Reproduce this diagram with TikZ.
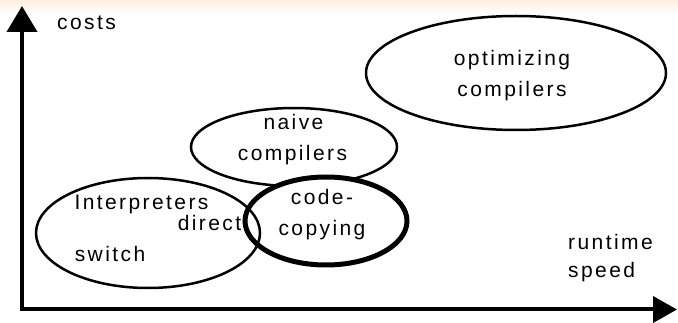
\documentclass[tikz,border=0pt]{standalone}
\usepackage{fontspec}
\setmainfont{Liberation Sans}[LetterSpace=11.5]
\usetikzlibrary{arrows.meta,shapes.geometric}

\begin{document}
\begin{tikzpicture}[x=1pt, y=-1pt,
		blob/.style={draw, ellipse, line width=2.5pt, inner sep=0pt},
		word/.style={font=\fontsize{21}{31}\selectfont, inner sep=0pt, anchor=base}]
	\useasboundingbox (0,0) rectangle (678,323);
	\shade[top color=orange!12, bottom color=white] (0,0) rectangle (678,14);

	% axes
	\coordinate (origin) at (22,309.5);
	\coordinate (ytip) at (22,6);
	\coordinate (xtip) at (677,309.5);
	\draw[line width=4pt, -{Triangle[width=30pt,length=26pt]}] (origin) -- (ytip);
	\draw[line width=4pt, -{Triangle[width=26pt,length=24pt]}] ([xshift=-2pt]origin) -- (xtip);
	\node[word, anchor=base west] (costs) at (57,30) {costs};
	\node[word, anchor=base west] (runtime) at (568,250) {runtime};
	\node[word, anchor=base west] (speed) at (568,278) {speed};

	% regions
	\node[blob, fill=white, minimum width=300pt, minimum height=114pt] (optimizing) at (516,73) {};
	\node[blob, fill=white, minimum width=206pt, minimum height=78pt] (naive) at (294,147) {};
	\node[blob, fill=white, line width=5pt, minimum width=162pt, minimum height=88pt] (copying) at (326,221) {};
	\node[blob, minimum width=224pt, minimum height=110pt] (interp) at (148,233) {};

	\node[word] (optimizingA) at (512,66) {optimizing};
	\node[word] (optimizingB) at (512,97) {compilers};
	\node[word] (naiveA) at (293.5,130) {naive};
	\node[word] (naiveB) at (292.5,161) {compilers};
	\node[word] (copyingA) at (322,205) {code-};
	\node[word] (copyingB) at (322,236) {copying};
	\node[word] (interpA) at (141.5,210) {Interpreters};
	\node[word] (interpB) at (209.5,231) {direct};
	\node[word] (interpC) at (110,262) {switch};
\end{tikzpicture}
\end{document}
